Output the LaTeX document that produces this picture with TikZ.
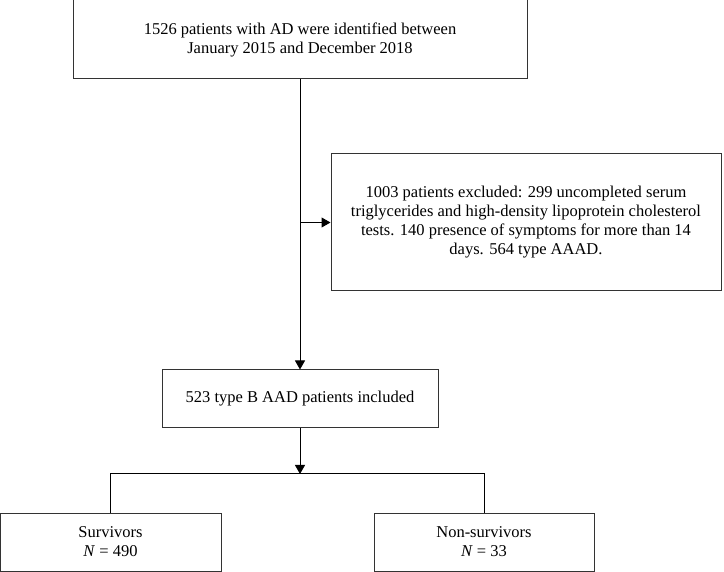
\documentclass[tikz,border=0pt]{standalone}
\usepackage{fontspec}
\setmainfont{Liberation Serif}
\usetikzlibrary{arrows.meta}
\begin{document}
\begin{tikzpicture}[x=1pt,y=-1pt,
  box/.style={draw=black!80,line width=1pt,rectangle,align=center,inner sep=0pt,font=\fontsize{16.5}{19}\selectfont},
  conn/.style={draw=black,line width=1pt},
  arr/.style={conn,-{Triangle[length=9pt,width=10pt]}}]
\useasboundingbox (0,0) rectangle (724,572);
\node[box,minimum width=454pt,minimum height=79pt] (top) at (300,39.5)
  {1526 patients with AD were identified between\\January 2015 and December 2018};
\node[box,minimum width=390pt,minimum height=137pt] (excl) at (526,222.5)
  {1003 patients excluded: 299 uncompleted serum\\triglycerides and high-density lipoprotein cholesterol\\tests. 140 presence of symptoms for more than 14\\days. 564 type AAAD.};
\node[box,minimum width=276pt,minimum height=58pt] (mid) at (300,399)
  {523 type B AAD patients included};
\node[box,minimum width=221pt,minimum height=58pt] (surv) at (110.5,542)
  {Survivors\\\textit{N} = 490};
\node[box,minimum width=220pt,minimum height=58pt] (non) at (484,542)
  {Non-survivors\\\textit{N} = 33};
\coordinate (branch) at (300,222.5);
\coordinate (split) at (300,474);
\coordinate (sl) at (surv.north|-split);
\coordinate (sr) at (non.north|-split);
\draw[arr] (top.south) -- (mid.north);
\draw[arr] (branch) -- (excl.west);
\draw[arr] (mid.south) -- (split);
\draw[conn] (surv.north) -- (sl) -- (sr) -- (non.north);
\end{tikzpicture}
\end{document}
